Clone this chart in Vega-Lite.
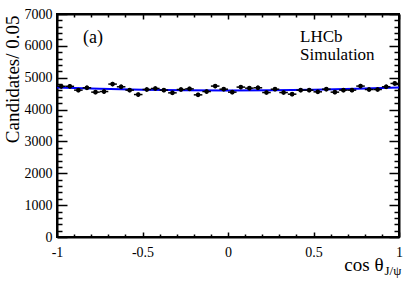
{
  "$schema": "https://vega.github.io/schema/vega-lite/v6.json",
  "width": 342,
  "height": 223,
  "autosize": {"type": "none"},
  "padding": {"left": 57, "top": 14, "right": 20, "bottom": 47},
  "background": "white",
  "config": {
    "view": {"stroke": "black", "strokeWidth": 2},
    "font": "Liberation Serif",
    "axis": {
      "grid": false,
      "domainColor": "black",
      "domainWidth": 2,
      "tickColor": "black",
      "tickWidth": 1.5,
      "labelColor": "black",
      "labelFont": "Liberation Serif",
      "labelFontSize": 14,
      "titleFont": "Liberation Serif",
      "titleFontWeight": "normal",
      "titleColor": "black",
      "titleFontSize": 19,
      "labelFlush": false,
      "labelOverlap": false
    }
  },
  "resolve": {"axis": {"x": "independent", "y": "independent"}},
  "datasets": {
    "hist": [
      {"x": -0.975, "lo": -1.0, "hi": -0.95, "count": 4730, "err": 69},
      {"x": -0.925, "lo": -0.95, "hi": -0.9, "count": 4730, "err": 69},
      {"x": -0.875, "lo": -0.9, "hi": -0.85, "count": 4610, "err": 68},
      {"x": -0.825, "lo": -0.85, "hi": -0.8, "count": 4684, "err": 68},
      {"x": -0.775, "lo": -0.8, "hi": -0.75, "count": 4547, "err": 67},
      {"x": -0.725, "lo": -0.75, "hi": -0.7, "count": 4566, "err": 68},
      {"x": -0.675, "lo": -0.7, "hi": -0.65, "count": 4800, "err": 69},
      {"x": -0.625, "lo": -0.65, "hi": -0.6, "count": 4715, "err": 69},
      {"x": -0.575, "lo": -0.6, "hi": -0.55, "count": 4610, "err": 68},
      {"x": -0.525, "lo": -0.55, "hi": -0.5, "count": 4472, "err": 67},
      {"x": -0.475, "lo": -0.5, "hi": -0.45, "count": 4630, "err": 68},
      {"x": -0.425, "lo": -0.45, "hi": -0.4, "count": 4662, "err": 68},
      {"x": -0.375, "lo": -0.4, "hi": -0.35, "count": 4610, "err": 68},
      {"x": -0.325, "lo": -0.35, "hi": -0.3, "count": 4525, "err": 67},
      {"x": -0.275, "lo": -0.3, "hi": -0.25, "count": 4630, "err": 68},
      {"x": -0.225, "lo": -0.25, "hi": -0.2, "count": 4650, "err": 68},
      {"x": -0.175, "lo": -0.2, "hi": -0.15, "count": 4462, "err": 67},
      {"x": -0.125, "lo": -0.15, "hi": -0.1, "count": 4566, "err": 68},
      {"x": -0.075, "lo": -0.1, "hi": -0.05, "count": 4737, "err": 69},
      {"x": -0.025, "lo": -0.05, "hi": 0.0, "count": 4640, "err": 68},
      {"x": 0.025, "lo": 0.0, "hi": 0.05, "count": 4547, "err": 67},
      {"x": 0.075, "lo": 0.05, "hi": 0.1, "count": 4705, "err": 69},
      {"x": 0.125, "lo": 0.1, "hi": 0.15, "count": 4672, "err": 68},
      {"x": 0.175, "lo": 0.15, "hi": 0.2, "count": 4684, "err": 68},
      {"x": 0.225, "lo": 0.2, "hi": 0.25, "count": 4535, "err": 67},
      {"x": 0.275, "lo": 0.25, "hi": 0.3, "count": 4640, "err": 68},
      {"x": 0.325, "lo": 0.3, "hi": 0.35, "count": 4535, "err": 67},
      {"x": 0.375, "lo": 0.35, "hi": 0.4, "count": 4484, "err": 67},
      {"x": 0.425, "lo": 0.4, "hi": 0.45, "count": 4610, "err": 68},
      {"x": 0.475, "lo": 0.45, "hi": 0.5, "count": 4610, "err": 68},
      {"x": 0.525, "lo": 0.5, "hi": 0.55, "count": 4557, "err": 68},
      {"x": 0.575, "lo": 0.55, "hi": 0.6, "count": 4640, "err": 68},
      {"x": 0.625, "lo": 0.6, "hi": 0.65, "count": 4547, "err": 67},
      {"x": 0.675, "lo": 0.65, "hi": 0.7, "count": 4610, "err": 68},
      {"x": 0.725, "lo": 0.7, "hi": 0.75, "count": 4610, "err": 68},
      {"x": 0.775, "lo": 0.75, "hi": 0.8, "count": 4737, "err": 69},
      {"x": 0.825, "lo": 0.8, "hi": 0.85, "count": 4630, "err": 68},
      {"x": 0.875, "lo": 0.85, "hi": 0.9, "count": 4630, "err": 68},
      {"x": 0.925, "lo": 0.9, "hi": 0.95, "count": 4715, "err": 69},
      {"x": 0.975, "lo": 0.95, "hi": 1.0, "count": 4820, "err": 69}
    ],
    "fit": [
      {"x": -1.0, "y": 4690},
      {"x": -0.75, "y": 4651},
      {"x": -0.5, "y": 4622},
      {"x": -0.25, "y": 4606},
      {"x": 0.0, "y": 4600},
      {"x": 0.25, "y": 4606},
      {"x": 0.5, "y": 4622},
      {"x": 0.75, "y": 4651},
      {"x": 1.0, "y": 4690}
    ]
  },
  "layer": [
    {
      "data": {"name": "fit"},
      "mark": {"type": "line", "color": "#0000ff", "strokeWidth": 2, "interpolate": "monotone"},
      "encoding": {
        "x": {
          "field": "x", "type": "quantitative",
          "scale": {"domain": [-1, 1], "nice": false, "zero": false},
          "axis": {
            "orient": "top", "labels": false, "title": null,
            "values": [-1, -0.9, -0.8, -0.7, -0.6, -0.5, -0.4, -0.3, -0.2, -0.1, 0, 0.1, 0.2, 0.3, 0.4, 0.5, 0.6, 0.7, 0.8, 0.9, 1],
            "tickSize": {"condition": {"test": "abs(datum.value*2 - round(datum.value*2)) < 0.001", "value": -5}, "value": -3}
          }
        },
        "y": {
          "field": "y", "type": "quantitative",
          "scale": {"domain": [0, 7000], "nice": false},
          "axis": {
            "orient": "right", "labels": false, "title": null,
            "values": [0, 200, 400, 600, 800, 1000, 1200, 1400, 1600, 1800, 2000, 2200, 2400, 2600, 2800, 3000, 3200, 3400, 3600, 3800, 4000, 4200, 4400, 4600, 4800, 5000, 5200, 5400, 5600, 5800, 6000, 6200, 6400, 6600, 6800, 7000],
            "tickSize": {"condition": {"test": "datum.value % 1000 == 0", "value": -10}, "value": -5}
          }
        }
      }
    },
    {
      "data": {"name": "hist"},
      "mark": {"type": "rule", "color": "black", "strokeWidth": 1.5},
      "encoding": {
        "x": {"field": "lo", "type": "quantitative", "scale": {"domain": [-1, 1], "nice": false, "zero": false}, "axis": null},
        "x2": {"field": "hi"},
        "y": {"field": "count", "type": "quantitative", "scale": {"domain": [0, 7000], "nice": false}, "axis": null}
      }
    },
    {
      "data": {"name": "hist"},
      "mark": {"type": "errorbar", "color": "black", "thickness": 1.5},
      "encoding": {
        "x": {"field": "x", "type": "quantitative", "scale": {"domain": [-1, 1], "nice": false, "zero": false}, "axis": null},
        "y": {"field": "count", "type": "quantitative", "scale": {"domain": [0, 7000], "nice": false}, "axis": null},
        "yError": {"field": "err"}
      }
    },
    {
      "data": {"name": "hist"},
      "mark": {"type": "circle", "color": "black", "opacity": 1, "size": 22},
      "encoding": {
        "x": {
          "field": "x", "type": "quantitative",
          "scale": {"domain": [-1, 1], "nice": false, "zero": false},
          "axis": {
            "orient": "bottom",
            "values": [-1, -0.9, -0.8, -0.7, -0.6, -0.5, -0.4, -0.3, -0.2, -0.1, 0, 0.1, 0.2, 0.3, 0.4, 0.5, 0.6, 0.7, 0.8, 0.9, 1],
            "labelExpr": "datum.value == -1 ? '-1' : datum.value == -0.5 ? '-0.5' : datum.value == 0 ? '0' : datum.value == 0.5 ? '0.5' : datum.value == 1 ? '1' : ''",
            "tickSize": {"condition": {"test": "abs(datum.value*2 - round(datum.value*2)) < 0.001", "value": -5}, "value": -3},
            "labelPadding": 13,
            "title": "cos θ",
            "titleX": 326,
            "titleY": 33,
            "titleAlign": "right",
            "titleBaseline": "alphabetic"
          }
        },
        "y": {
          "field": "count", "type": "quantitative",
          "scale": {"domain": [0, 7000], "nice": false},
          "axis": {
            "orient": "left",
            "values": [0, 200, 400, 600, 800, 1000, 1200, 1400, 1600, 1800, 2000, 2200, 2400, 2600, 2800, 3000, 3200, 3400, 3600, 3800, 4000, 4200, 4400, 4600, 4800, 5000, 5200, 5400, 5600, 5800, 6000, 6200, 6400, 6600, 6800, 7000],
            "format": "d",
            "labelExpr": "datum.value % 1000 == 0 ? datum.label : ''",
            "tickSize": {"condition": {"test": "datum.value % 1000 == 0", "value": -10}, "value": -5},
            "labelPadding": 15,
            "title": "Candidates/ 0.05",
            "titleAngle": -90,
            "titleX": -39,
            "titleY": 1,
            "titleAlign": "right",
            "titleBaseline": "alphabetic"
          }
        }
      }
    },
    {
      "data": {"values": [{"x": -0.848, "y": 6250, "label": "(a)"}]},
      "mark": {"type": "text", "align": "left", "baseline": "middle", "font": "Liberation Serif", "fontSize": 18, "color": "black"},
      "encoding": {
        "x": {"field": "x", "type": "quantitative", "scale": {"domain": [-1, 1], "nice": false, "zero": false}, "axis": null},
        "y": {"field": "y", "type": "quantitative", "scale": {"domain": [0, 7000], "nice": false}, "axis": null},
        "text": {"field": "label"}
      }
    },
    {
      "data": {"values": [{"x": 0.421, "y": 6290, "label": "LHCb"}, {"x": 0.421, "y": 5720, "label": "Simulation"}]},
      "mark": {"type": "text", "align": "left", "baseline": "middle", "font": "Liberation Serif", "fontSize": 17, "color": "black"},
      "encoding": {
        "x": {"field": "x", "type": "quantitative", "scale": {"domain": [-1, 1], "nice": false, "zero": false}, "axis": null},
        "y": {"field": "y", "type": "quantitative", "scale": {"domain": [0, 7000], "nice": false}, "axis": null},
        "text": {"field": "label"}
      }
    },
    {
      "data": {"values": [{"x": 0.915, "y": -1180, "label": "J/ψ"}]},
      "mark": {"type": "text", "align": "left", "baseline": "alphabetic", "font": "Liberation Serif", "fontSize": 13, "color": "black"},
      "encoding": {
        "x": {"field": "x", "type": "quantitative", "scale": {"domain": [-1, 1], "nice": false, "zero": false}, "axis": null},
        "y": {"field": "y", "type": "quantitative", "scale": {"domain": [0, 7000], "nice": false}, "axis": null},
        "text": {"field": "label"}
      }
    }
  ]
}
